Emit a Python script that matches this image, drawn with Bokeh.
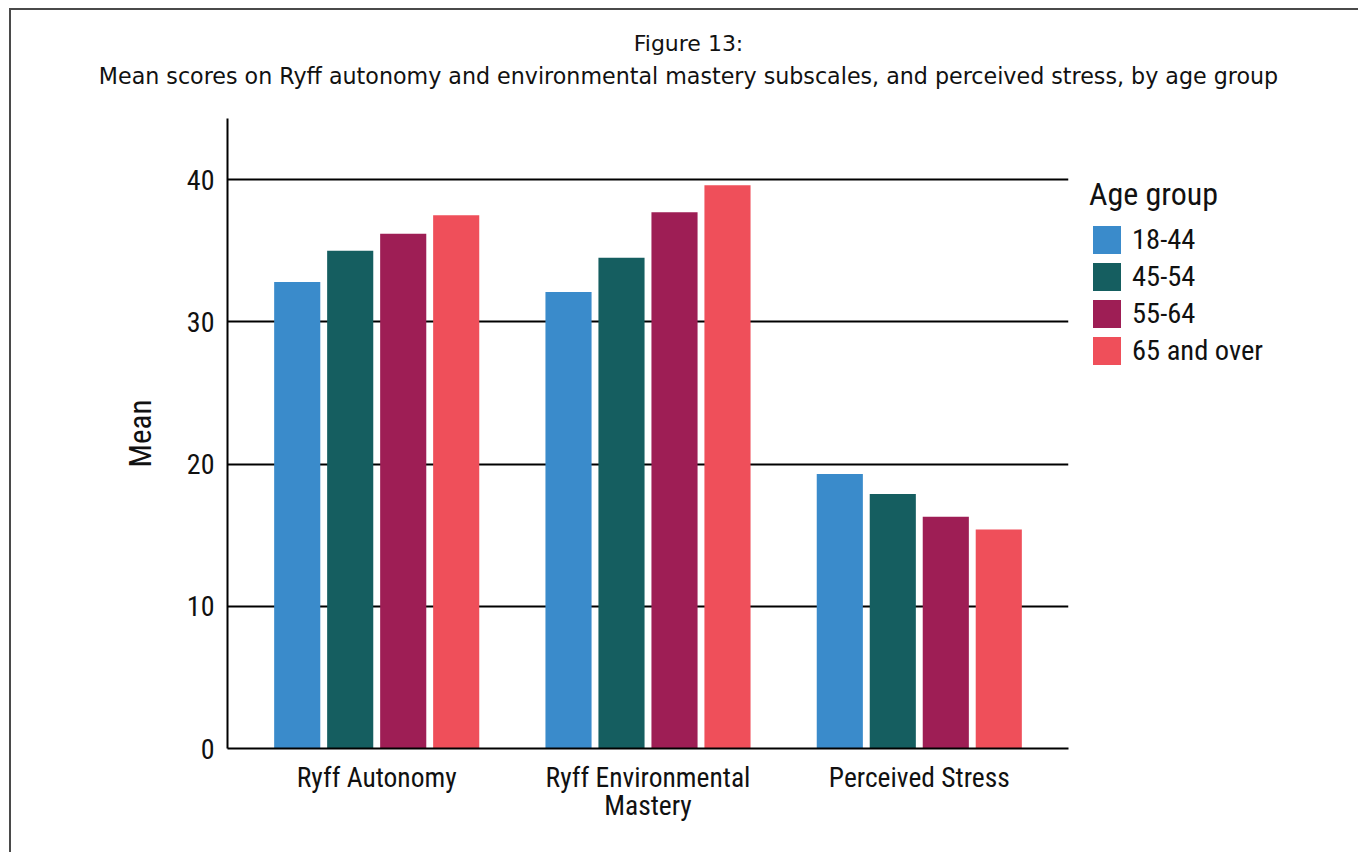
import textwrap
from bokeh.plotting import figure
from bokeh.models import FactorRange, Legend, LegendItem, FixedTicker, ColumnDataSource, Label
from bokeh.transform import dodge
from bokeh.layouts import column, row
from bokeh.embed import file_html
from bokeh.resources import INLINE

categories = ["Ryff Autonomy", "Ryff Environmental Mastery", "Perceived Stress"]
age_groups = ["18-44", "45-54", "55-64", "65 and over"]
age_18_44 = [32.8, 32.1, 19.3]
age_45_54 = [35.0, 34.5, 17.9]
age_55_64 = [36.2, 37.7, 16.3]
age_65_over = [37.5, 39.6, 15.4]
y_ticks = [0, 10, 20, 30, 40]
title_text = "Figure 13:"
subtitle_text = ("Mean scores on Ryff autonomy and environmental mastery subscales, "
                 "and perceived stress, by age group")
legend_title = "Age group"

colors = ["#3A8BCB", "#155E60", "#9E1E55", "#EF4F5A"]

COND = "'Liberation Sans Narrow', 'Roboto Condensed', 'Roboto', sans-serif"
TITLE_FONT = "DejaVu Sans"
TXT = "#111111"

# category names wrapped for the axis (long names break onto two lines)
factors = [textwrap.fill(c, 18) for c in categories]

src = ColumnDataSource(dict(cat=factors, a=age_18_44, b=age_45_54, c=age_55_64, d=age_65_over))


def bare(fig):
    fig.outline_line_color = None
    fig.xgrid.grid_line_color = None
    fig.ygrid.grid_line_color = None
    return fig


# ---- title strip ----
tf = bare(figure(width=1347, height=100, output_backend="svg", toolbar_location=None,
                 x_axis_location=None, y_axis_location=None, min_border=0))
tf.add_layout(Label(x=677, y=67, x_units="screen", y_units="screen", text=title_text,
                    text_align="center", text_baseline="alphabetic", text_font=TITLE_FONT,
                    text_font_size="22px", text_color=TXT))
tf.add_layout(Label(x=677, y=35, x_units="screen", y_units="screen", text=subtitle_text,
                    text_align="center", text_baseline="alphabetic", text_font=TITLE_FONT,
                    text_font_size="22.2px", text_color=TXT))

# ---- main chart ----
p = figure(
    x_range=FactorRange(*factors, range_padding=0.1 / 3),
    y_range=(0, 44.3),
    width=1059, height=742,
    output_backend="svg", toolbar_location=None,
    min_border_left=216, min_border_right=2, min_border_top=8, min_border_bottom=104,
)
p.outline_line_color = None

offsets = [-0.293, -0.0977, 0.0977, 0.293]
for key, off, col in zip(["a", "b", "c", "d"], offsets, colors):
    p.vbar(x=dodge("cat", off, range=p.x_range), top=key, width=0.17, source=src,
           fill_color=col, line_color=None)

p.xgrid.grid_line_color = None
p.ygrid.grid_line_color = "black"
p.ygrid.grid_line_width = 2
p.ygrid.ticker = FixedTicker(ticks=y_ticks)

p.yaxis.ticker = FixedTicker(ticks=y_ticks)
p.yaxis.axis_label = "Mean"
p.yaxis.axis_label_text_font = COND
p.yaxis.axis_label_text_font_size = "31px"
p.yaxis.axis_label_text_font_style = "normal"
p.yaxis.axis_label_text_color = TXT
p.yaxis.axis_label_standoff = 25
for ax in (p.xaxis[0], p.yaxis[0]):
    ax.axis_line_color = "black"
    ax.axis_line_width = 2
    ax.major_tick_line_color = None
    ax.minor_tick_line_color = None
    ax.major_label_text_font = COND
    ax.major_label_text_font_size = "28px"
    ax.major_label_text_color = TXT
p.yaxis.major_label_standoff = 7
p.xaxis.major_label_standoff = 6
p.xaxis.major_label_text_font_size = "27.5px"
p.xaxis.major_label_text_line_height = 0.85

# ---- legend panel (zero-height swatch bars only feed the legend) ----
lf = bare(figure(width=288, height=742, output_backend="svg", toolbar_location=None,
                 x_axis_location=None, y_axis_location=None, min_border=0))
swatch = ColumnDataSource(dict(x=[0], top=[0]))
items = []
for g, col in zip(age_groups, colors):
    r = lf.vbar(x="x", top="top", width=1, source=swatch, fill_color=col, line_color=None)
    items.append(LegendItem(label=g, renderers=[r]))

legend = Legend(items=items, location=(19, 380.5))
legend.title = legend_title
legend.title_text_font = COND
legend.title_text_font_size = "32px"
legend.title_text_font_style = "normal"
legend.title_text_color = TXT
legend.title_standoff = 9
legend.label_text_font = COND
legend.label_text_font_size = "28.5px"
legend.label_text_color = TXT
legend.glyph_width = 35
legend.glyph_height = 35
legend.spacing = 2
legend.label_standoff = 8
legend.border_line_color = None
legend.background_fill_color = None
legend.margin = 0
legend.padding = 10
lf.add_layout(legend)

layout = column(tf, row(p, lf),
                styles={"border-top": "2px solid #4a4a4a", "border-left": "2px solid #4a4a4a",
                        "margin-left": "9px", "margin-top": "8px"})

open("out.html", "w").write(file_html(layout, INLINE))
